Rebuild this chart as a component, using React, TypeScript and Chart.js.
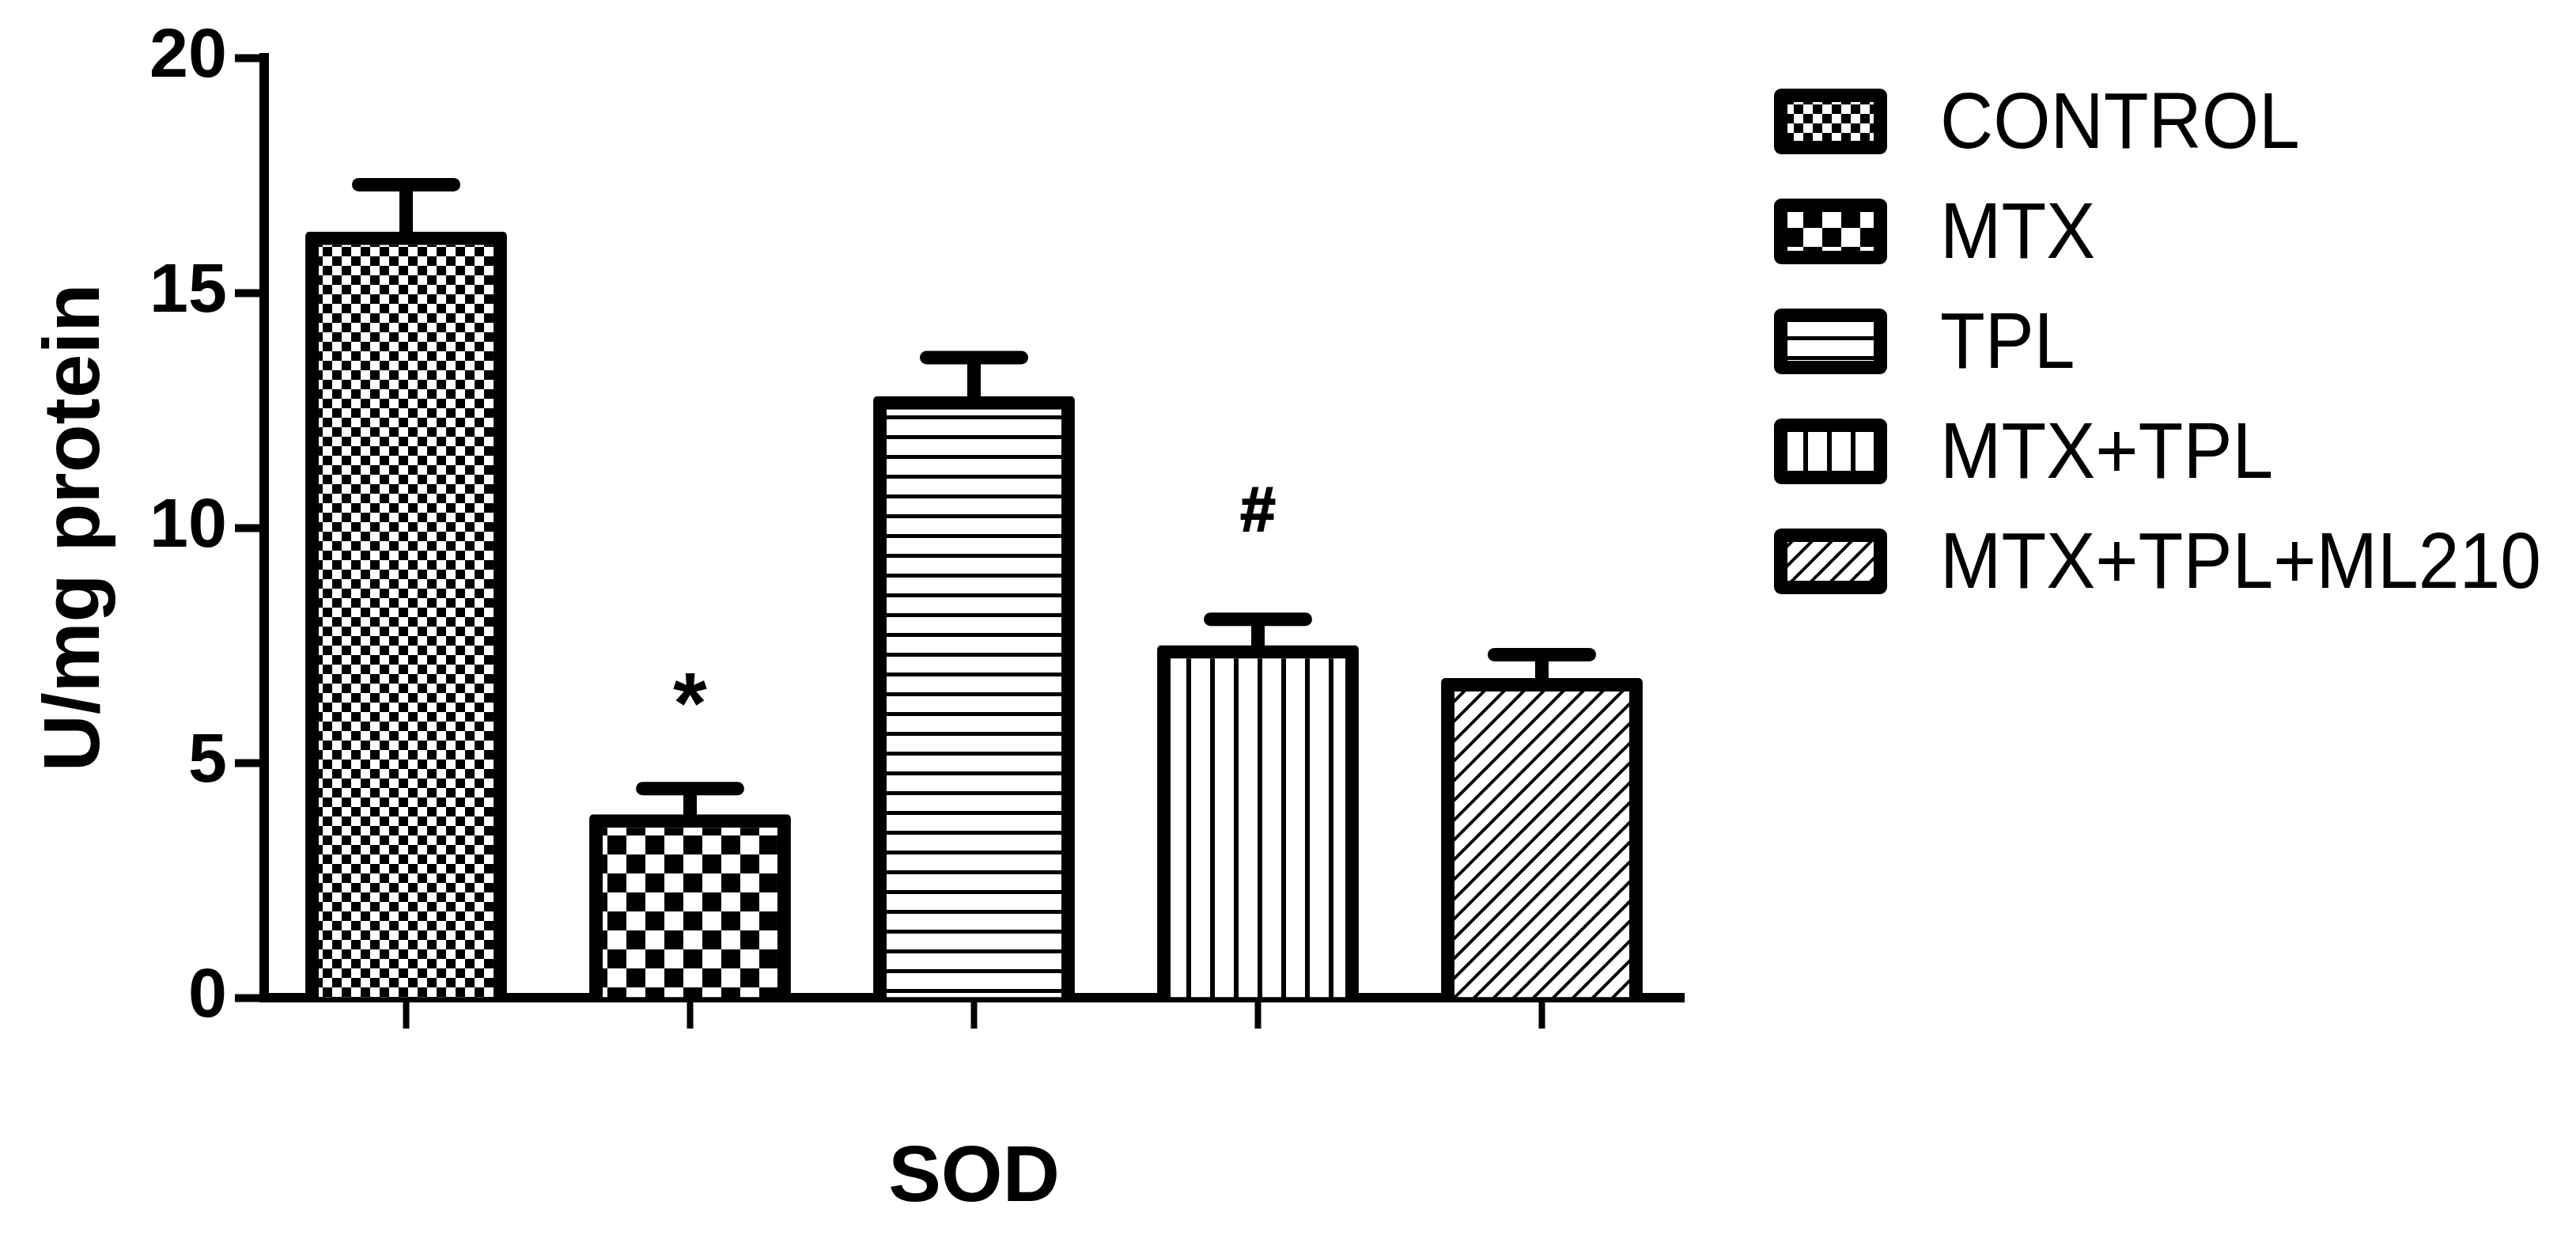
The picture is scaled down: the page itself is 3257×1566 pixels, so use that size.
import React, { useEffect, useRef } from 'react';
import { Chart, registerables } from 'chart.js';

Chart.register(...registerables);

const FONT = '"Liberation Sans", Arial, sans-serif';

const categories = ['CONTROL', 'MTX', 'TPL', 'MTX+TPL', 'MTX+TPL+ML210'];
const meanValues = [16.3, 3.9, 12.8, 7.5, 6.8];
const errorValues = [1.0, 0.55, 0.82, 0.55, 0.5];
const markLabels = ['', '*', '', '#', ''];
const markValues: (number | null)[] = [null, 6.55, null, 10.4, null];
const yTicks = [0, 5, 10, 15, 20];
const yTitle = 'U/mg protein';
const xTitle = 'SOD';
const patternKinds = ['fineChecker', 'coarseChecker', 'horizontal', 'vertical', 'diagonal'];

function makePattern(kind: string, ctx: CanvasRenderingContext2D): CanvasPattern | string {
  const c = document.createElement('canvas');
  const g = c.getContext('2d') as CanvasRenderingContext2D;
  if (kind === 'fineChecker') {
    c.width = 24; c.height = 24;
    g.fillStyle = '#fff'; g.fillRect(0, 0, 24, 24);
    g.fillStyle = '#000'; g.fillRect(0, 0, 12, 12); g.fillRect(12, 12, 12, 12);
  } else if (kind === 'coarseChecker') {
    c.width = 48; c.height = 48;
    g.fillStyle = '#fff'; g.fillRect(0, 0, 48, 48);
    g.fillStyle = '#000'; g.fillRect(0, 0, 24, 24); g.fillRect(24, 24, 24, 24);
  } else if (kind === 'horizontal') {
    c.width = 8; c.height = 25;
    g.fillStyle = '#fff'; g.fillRect(0, 0, 8, 25);
    g.fillStyle = '#000'; g.fillRect(0, 0, 8, 5);
  } else if (kind === 'vertical') {
    c.width = 30; c.height = 8;
    g.fillStyle = '#fff'; g.fillRect(0, 0, 30, 8);
    g.fillStyle = '#000'; g.fillRect(0, 0, 6, 8);
  } else {
    c.width = 25; c.height = 25;
    g.fillStyle = '#fff'; g.fillRect(0, 0, 25, 25);
    g.strokeStyle = '#000'; g.lineWidth = 4;
    g.beginPath();
    g.moveTo(-5, 30); g.lineTo(30, -5);
    g.moveTo(-5, 5); g.lineTo(5, -5);
    g.moveTo(20, 30); g.lineTo(30, 20);
    g.stroke();
  }
  return ctx.createPattern(c, 'repeat') || '#fff';
}

function roundRectPath(ctx: CanvasRenderingContext2D, x: number, y: number, w: number, h: number, r: number) {
  ctx.beginPath();
  ctx.moveTo(x + r, y);
  ctx.lineTo(x + w - r, y);
  ctx.arcTo(x + w, y, x + w, y + r, r);
  ctx.lineTo(x + w, y + h - r);
  ctx.arcTo(x + w, y + h, x + w - r, y + h, r);
  ctx.lineTo(x + r, y + h);
  ctx.arcTo(x, y + h, x, y + h - r, r);
  ctx.lineTo(x, y + r);
  ctx.arcTo(x, y, x + r, y, r);
  ctx.closePath();
}

const errorBarPlugin = {
  id: 'errorBars',
  afterDatasetsDraw(chart: any) {
    const ctx = chart.ctx as CanvasRenderingContext2D;
    const yScale = chart.scales.y;
    const meta = chart.getDatasetMeta(0);
    meta.data.forEach((bar: any, i: number) => {
      const x = bar.x;
      const top = yScale.getPixelForValue(meanValues[i]);
      const capY = yScale.getPixelForValue(meanValues[i] + errorValues[i]);
      ctx.save();
      ctx.fillStyle = '#000';
      ctx.fillRect(x - 8.5, capY, 17, top - capY + 4);
      ctx.strokeStyle = '#000';
      ctx.lineWidth = 17;
      ctx.lineCap = 'round';
      ctx.beginPath();
      ctx.moveTo(x - 60, capY);
      ctx.lineTo(x + 60, capY);
      ctx.stroke();
      const mark = markLabels[i];
      const mv = markValues[i];
      if (mark && mv !== null) {
        const cy = yScale.getPixelForValue(mv);
        ctx.font = `bold ${mark === '*' ? 110 : 80}px ${FONT}`;
        ctx.textAlign = 'center';
        ctx.textBaseline = 'alphabetic';
        const m = ctx.measureText(mark);
        const base = cy + (m.actualBoundingBoxAscent - m.actualBoundingBoxDescent) / 2;
        ctx.fillText(mark, x, base);
        if (mark === '#') {
          ctx.lineWidth = 2;
          ctx.strokeText(mark, x, base);
        }
      }
      ctx.restore();
    });
  },
};

const legendPlugin = {
  id: 'patternLegend',
  afterDraw(chart: any) {
    const ctx = chart.ctx as CanvasRenderingContext2D;
    const ds = chart.data.datasets[0];
    (chart.data.labels as string[]).forEach((label, i) => {
      const bx = 2243;
      const by = 112 + i * 139;
      const bw = 143;
      const bh = 83;
      ctx.save();
      ctx.fillStyle = '#000';
      roundRectPath(ctx, bx, by, bw, bh, 9);
      ctx.fill();
      ctx.fillStyle = ds.backgroundColor[i];
      ctx.fillRect(bx + 17, by + 17, bw - 34, bh - 34);
      ctx.fillStyle = '#000';
      ctx.font = `100px ${FONT}`;
      ctx.textAlign = 'left';
      ctx.textBaseline = 'alphabetic';
      ctx.translate(2453, by + bh - 8);
      ctx.scale(0.93, 1);
      ctx.fillText(label, 0, 0);
      ctx.restore();
    });
  },
};

export default function App() {
  const canvasRef = useRef<HTMLCanvasElement | null>(null);

  useEffect(() => {
    const canvas = canvasRef.current;
    if (!canvas) return;
    const ctx = canvas.getContext('2d') as CanvasRenderingContext2D;
    Chart.defaults.font.family = FONT;
    Chart.defaults.color = '#000';
    const patterns = patternKinds.map((k) => makePattern(k, ctx));

    const chart = new Chart(canvas, {
      type: 'bar',
      data: {
        labels: categories,
        datasets: [
          {
            label: 'SOD',
            data: meanValues,
            backgroundColor: patterns as any,
            borderColor: '#000',
            borderWidth: 17,
            borderRadius: 5,
            borderSkipped: 'start',
            categoryPercentage: 1,
            barPercentage: 0.71,
          },
        ],
      },
      options: {
        animation: false,
        responsive: false,
        devicePixelRatio: 1,
        layout: { padding: { left: 0, top: 73, right: 1128, bottom: 0 } },
        plugins: { legend: { display: false }, tooltip: { enabled: false } },
        scales: {
          x: {
            offset: true,
            grid: {
              display: true,
              drawOnChartArea: false,
              drawTicks: true,
              tickLength: 39,
              tickWidth: 8,
              tickColor: '#000',
              offset: false,
            },
            border: { display: true, color: '#000', width: 12 },
            ticks: { display: true, callback: () => '', autoSkip: false, padding: 0 },
            title: {
              display: true,
              text: xTitle,
              color: '#000',
              font: { size: 100, weight: 'bold', family: FONT },
              padding: { top: 0, bottom: 16 },
            },
            afterFit: (s: any) => { s.height = 305; },
          },
          y: {
            min: 0,
            max: 20,
            afterBuildTicks: (s: any) => { s.ticks = yTicks.map((v) => ({ value: v })); },
            grid: {
              display: true,
              drawOnChartArea: false,
              drawTicks: true,
              tickLength: 37,
              tickWidth: 10,
              tickColor: '#000',
            },
            border: { display: true, color: '#000', width: 12 },
            ticks: {
              color: '#000',
              padding: 10,
              font: { size: 88, weight: 'bold', family: FONT },
            },
            title: {
              display: true,
              text: yTitle,
              color: '#000',
              font: { size: 100, weight: 'bold', family: FONT },
              padding: { top: 37, bottom: 0 },
            },
            afterFit: (s: any) => { s.width = 334; },
          },
        },
      } as any,
      plugins: [errorBarPlugin, legendPlugin],
    });
    return () => chart.destroy();
  }, []);

  return (
    <div style={{ position: 'fixed', left: 0, top: 0, width: 3257, height: 1566, background: '#fff' }}>
      <canvas ref={canvasRef} width={3257} height={1566} style={{ display: 'block', width: 3257, height: 1566 }} />
    </div>
  );
}
